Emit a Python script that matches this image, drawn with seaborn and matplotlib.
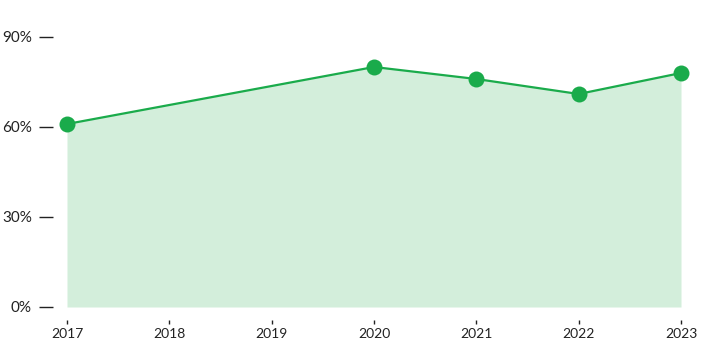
import matplotlib
matplotlib.use("Agg")
import matplotlib.pyplot as plt
import seaborn as sns
import pandas as pd

years = [2017, 2020, 2021, 2022, 2023]
values = [61, 80, 76, 71, 78]
xticks = [2017, 2018, 2019, 2020, 2021, 2022, 2023]
yticks = [0, 30, 60, 90]
ylabels = ["0%", "30%", "60%", "90%"]

LINE = "#1aab4b"
FILL = "#d3eedb"
PT = 0.72  # points per pixel at dpi 100

sns.set_theme(style="white")
plt.rcParams['font.family'] = ['Lato', 'DejaVu Sans']

df = pd.DataFrame({"year": years, "value": values})

fig = plt.figure(figsize=(7.05, 3.5), dpi=100)
ax = fig.add_axes([67/705, 43/350, (681-67)/705, (307-37)/350])

ax.fill_between(df["year"], df["value"], 0, color=FILL, linewidth=0, zorder=1)
sns.lineplot(data=df, x="year", y="value", ax=ax, color=LINE, linewidth=1.6,
             marker="o", markersize=11.5, markeredgewidth=0, zorder=3, clip_on=False)

ax.set_xlim(2017, 2023)
ax.set_ylim(0, 90)
ax.set_xticks(xticks)
ax.set_xticklabels([str(x) for x in xticks])
ax.set_yticks(yticks)
ax.set_yticklabels(ylabels)
ax.set_xlabel("")
ax.set_ylabel("")

for s in ["top", "right"]:
    ax.spines[s].set_visible(False)
ax.spines["left"].set_position(("outward", 14 * PT))
ax.spines["bottom"].set_position(("outward", 13 * PT))
ax.spines["left"].set_visible(False)
ax.spines["bottom"].set_visible(False)

ax.tick_params(axis="y", direction="out", length=14 * PT, width=1.0, color="#222222",
               pad=7 * PT, labelsize=11, labelcolor="#222222", left=True)
ax.tick_params(axis="x", direction="out", length=4 * PT, width=1, color="#222222",
               pad=4 * PT, labelsize=10, labelcolor="#222222", bottom=True)

fig.savefig("out.png", dpi=100)
